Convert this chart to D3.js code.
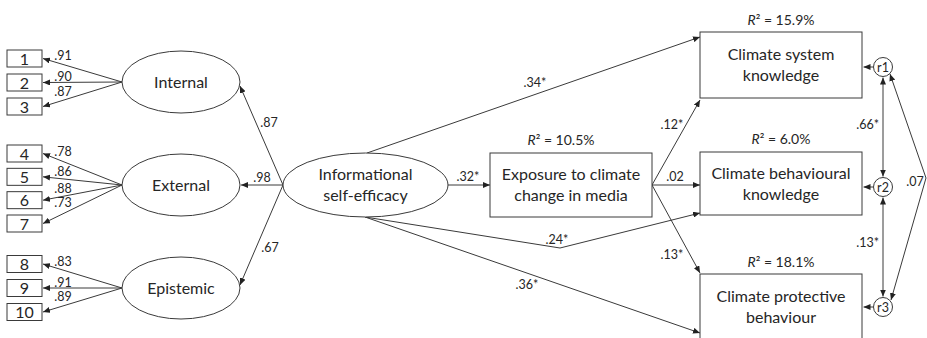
<!DOCTYPE html>
<html>
<head>
<meta charset="utf-8">
<script src="https://cdn.jsdelivr.net/npm/d3@7"></script>
<style>
  html, body { margin: 0; padding: 0; background: #fff; }
  svg { display: block; font-family: "Lato", "Open Sans", sans-serif; }
</style>
</head>
<body>
<svg id="chart" width="927" height="338"></svg>
<script>
// ---- Model content ----
const indicators = ["1", "2", "3", "4", "5", "6", "7", "8", "9", "10"];
const factors = ["Internal", "External", "Epistemic"];
const factorItems = [[0, 1, 2], [3, 4, 5, 6], [7, 8, 9]];
const loadings = [0.91, 0.90, 0.87, 0.78, 0.86, 0.88, 0.73, 0.83, 0.91, 0.89];
const factorLoadings = [0.87, 0.98, 0.67];

const predictor = ["Informational", "self-efficacy"];
const mediator = ["Exposure to climate", "change in media"];
const mediatorR2 = 10.5;
const predictorToMediator = { value: 0.32, sig: true };

const outcomes = [
  ["Climate system", "knowledge"],
  ["Climate behavioural", "knowledge"],
  ["Climate protective", "behaviour"]
];
const outcomeR2 = [15.9, 6.0, 18.1];
const directEffects = [0.34, 0.24, 0.36];
const directSig = [true, true, true];
const mediatorEffects = [0.12, 0.02, 0.13];
const mediatorSig = [true, false, true];

const residuals = ["r1", "r2", "r3"];
const residualCov = [0.66, 0.13, 0.07];   // r1-r2, r2-r3, r1-r3
const residualSig = [true, true, false];

// ---- Helpers ----
const fmt = (v, s) => d3.format(".2f")(v).replace(/^0/, "") + (s ? "*" : "");
const fmtPct = d3.format(".1f");

const svg = d3.select("#chart");
const INK = "#3a3a3a";
const TXT = "#262626";

svg.append("defs").append("marker")
  .attr("id", "head")
  .attr("viewBox", "0 -3 7 6")
  .attr("refX", 7).attr("refY", 0)
  .attr("markerWidth", 7).attr("markerHeight", 6)
  .attr("markerUnits", "userSpaceOnUse")
  .attr("orient", "auto-start-reverse")
  .append("path").attr("d", "M0,-3L7,0L0,3Z").attr("fill", "#222");

const gLines = svg.append("g").attr("fill", "none").attr("stroke", INK).attr("stroke-width", 1);
const gNodes = svg.append("g");
const gText = svg.append("g").attr("fill", TXT);

const line = d3.line();
function arrow(points, both) {
  const p = gLines.append("path").attr("d", line(points)).attr("marker-end", "url(#head)");
  if (both) p.attr("marker-start", "url(#head)");
  return p;
}
function label(x, y, txt, size, anchor) {
  return gText.append("text").attr("x", x).attr("y", y)
    .attr("font-size", size || 12.5).attr("text-anchor", anchor || "middle").text(txt);
}
function multiline(cx, cy, lines, size) {
  const gap = 21;
  lines.forEach((t, i) => {
    label(cx, cy + (i - (lines.length - 1) / 2) * gap + size * 0.36, t, size);
  });
}
function r2Label(cx, baseline, v) {
  const t = gText.append("text").attr("x", cx).attr("y", baseline)
    .attr("font-size", 14).attr("text-anchor", "middle");
  t.append("tspan").attr("font-style", "italic").text("R");
  t.append("tspan").text("\u00B2 = " + fmtPct(v) + "%");
}

// ---- Layout scales ----
const factorY = d3.scalePoint().domain(factors).range([82, 288]);
const groupRange = [[58.5, 106.5], [153.5, 223.5], [264, 312]];
const outcomeY = d3.scaleOrdinal().domain(outcomes.map(o => o.join(" "))).range([65, 183.5, 307]);
const outcomeH = [66, 63, 66];

const IND = { x: 7, w: 35, h: 17 };
const FAC = { cx: 181, rx: 59, ry: 31 };
const ISE = { cx: 365.5, cy: 185, rx: 82.5, ry: 32 };
const MED = { x: 490, y: 153, w: 162, h: 64 };
const OUT = { x: 700, w: 162 };
const RES = { cx: 883, r: 9.5 };

// ---- Measurement part: indicators and first-order factors ----
factors.forEach((f, fi) => {
  const cy = factorY(f);
  const items = factorItems[fi];
  const iy = d3.scalePoint().domain(items).range(groupRange[fi]);
  items.forEach(k => {
    const y = iy(k);
    gNodes.append("rect")
      .attr("x", IND.x).attr("y", y - IND.h / 2).attr("width", IND.w).attr("height", IND.h)
      .attr("fill", "#fff").attr("stroke", INK);
    label(IND.x + IND.w / 2, y + 6, indicators[k], 16);
    const x0 = FAC.cx - FAC.rx, x1 = IND.x + IND.w + 1;
    arrow([[x0, cy], [x1, y]]);
    // loading label sits just above its path
    const lx = 63;
    const slope = (cy - y) / (x0 - x1);
    const ly = y + slope * (lx - x1) - 6 - 10 * Math.abs(slope);
    label(lx, ly + 4.5, fmt(loadings[k], false), 12.5);
  });
  gNodes.append("ellipse")
    .attr("cx", FAC.cx).attr("cy", cy).attr("rx", FAC.rx).attr("ry", FAC.ry)
    .attr("fill", "#fff").attr("stroke", INK);
  label(FAC.cx, cy + 5.5, f, 16);
});

// ---- Second-order factor ----
const facTargets = [[240, 86], [241, 185], [240, 285]];
const facLabel = [[269, 127], [262, 182], [270, 252]];
factors.forEach((f, fi) => {
  arrow([[ISE.cx - ISE.rx, ISE.cy], facTargets[fi]]);
  label(facLabel[fi][0], facLabel[fi][1], fmt(factorLoadings[fi], false), 12.5);
});
gNodes.append("ellipse")
  .attr("cx", ISE.cx).attr("cy", ISE.cy).attr("rx", ISE.rx).attr("ry", ISE.ry)
  .attr("fill", "#fff").attr("stroke", INK);
multiline(ISE.cx, ISE.cy, predictor, 16);

// ---- Mediator ----
arrow([[ISE.cx + ISE.rx, ISE.cy], [MED.x, MED.y + MED.h / 2]]);
label(468, 181, fmt(predictorToMediator.value, predictorToMediator.sig), 12.5);
gNodes.append("rect")
  .attr("x", MED.x).attr("y", MED.y).attr("width", MED.w).attr("height", MED.h)
  .attr("fill", "#fff").attr("stroke", INK);
multiline(MED.x + MED.w / 2, MED.y + MED.h / 2, mediator, 16);
r2Label(MED.x + MED.w / 2 - 10, 145, mediatorR2);

// ---- Outcomes ----
const medOut = [MED.x + MED.w, MED.y + MED.h / 2];
const directPaths = [
  [[367, 153], [OUT.x, 37]],
  [[365, 217], [560, 248], [OUT.x, 213]],
  [[365, 217], [OUT.x, 333]]
];
const directLabel = [[535, 87], [557, 244], [527, 289]];
const medTargets = [[OUT.x, 100], [OUT.x, 185], [OUT.x, 273]];
const medLabel = [[672, 129], [675, 181], [672, 259]];
const r2Base = [25, 144, 267];

outcomes.forEach((o, i) => {
  const key = o.join(" ");
  const cy = outcomeY(key), h = outcomeH[i];
  arrow(directPaths[i]);
  label(directLabel[i][0], directLabel[i][1], fmt(directEffects[i], directSig[i]), 12.5);
  arrow([medOut, medTargets[i]]);
  label(medLabel[i][0], medLabel[i][1], fmt(mediatorEffects[i], mediatorSig[i]), 12.5);
  gNodes.append("rect")
    .attr("x", OUT.x).attr("y", cy - h / 2).attr("width", OUT.w).attr("height", h)
    .attr("fill", "#fff").attr("stroke", INK);
  multiline(OUT.x + OUT.w / 2, cy, o, 16);
  r2Label(OUT.x + OUT.w / 2, r2Base[i], outcomeR2[i]);
});

// ---- Residuals and their covariances ----
const resY = [67, 187, 307];
residuals.forEach((r, i) => {
  arrow([[RES.cx - RES.r, resY[i]], [OUT.x + OUT.w + 1.5, resY[i]]]);
  gNodes.append("circle").attr("cx", RES.cx).attr("cy", resY[i]).attr("r", RES.r)
    .attr("fill", "#fff").attr("stroke", INK);
  label(RES.cx, resY[i] + 4.5, r, 12.5);
});
arrow([[RES.cx, resY[0] + RES.r + 1], [RES.cx, resY[1] - RES.r - 1]], true);
label(879, 129, fmt(residualCov[0], residualSig[0]), 12.5, "end");
arrow([[RES.cx, resY[1] + RES.r + 1], [RES.cx, resY[2] - RES.r - 1]], true);
label(879, 247, fmt(residualCov[1], residualSig[1]), 12.5, "end");
arrow([[890, 74], [926, 178], [891, 300]], true);
label(915, 186, fmt(residualCov[2], residualSig[2]), 12.5);
</script>
</body>
</html>
